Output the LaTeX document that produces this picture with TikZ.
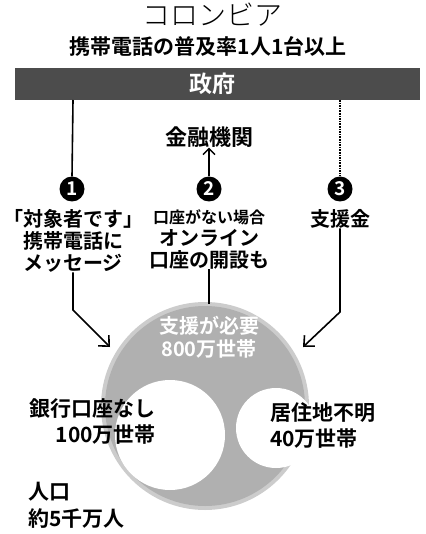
\documentclass[tikz,border=0pt]{standalone}
\usepackage{fontspec}
\newfontfamily\jp{Noto Sans CJK JP}[BoldFont={Noto Sans CJK JP Bold}]
\newfontfamily\jplight{Noto Sans CJK JP Light}
\usetikzlibrary{arrows.meta}
\begin{document}
\begin{tikzpicture}[x=1pt,y=-1pt,
  every node/.style={font=\jp\bfseries, inner sep=0pt, align=center},
  conn/.style={line width=1.6pt, black},
  arr/.style={conn, -{Straight Barb[length=8pt,width=15pt,line width=1.6pt]}},
  numc/.style={circle, fill=black, minimum width=25pt, minimum height=25pt, text=white, font=\jp\bfseries\fontsize{19}{19}\selectfont},
  lbl/.style={font=\jp\bfseries\fontsize{20}{22}\selectfont}
]
\useasboundingbox (0,0) rectangle (425,534);
% title
\node[font=\jplight\fontsize{28}{28}\selectfont] (title) at (212,15) {コロンビア};
\node[font=\jp\bfseries\fontsize{21}{21}\selectfont] (sub) at (208,46) {携帯電話の普及率1人1台以上};
% government bar
\fill[black!70] (15,68) rectangle (420,100);
\node[text=white, font=\jp\bfseries\fontsize{23}{23}\selectfont] (gov) at (212,84) {政府};
\coordinate (g1) at (73,100);
\coordinate (g3) at (340,100);
% bank
\node[font=\jp\bfseries\fontsize{22}{22}\selectfont] (bank) at (209,137) {金融機関};
% circled numbers
\node[numc] (c1) at (72,189) {1};
\node[numc] (c2) at (209,189) {2};
\node[numc] (c3) at (340,189) {3};
\draw[conn] (g1) -- (c1.north);
\draw[conn, densely dotted] (g3) -- (c3.north);
\draw[conn, -{Straight Barb[length=6pt,width=12pt,line width=1.4pt]}, line width=1.4pt] (c2.north) -- (bank.south);
% texts
\node[lbl, anchor=north] (t1) at (73,209) {「対象者です」\\携帯電話に\\メッセージ};
\node[anchor=north, font=\jp\bfseries\fontsize{20}{22}\selectfont] (t2) at (209,209) {{\fontsize{16}{16}\selectfont 口座がない場合}\\オンライン\\口座の開設も};
\node[lbl, anchor=north] (t3) at (340,209) {支援金};
% big circle
\fill[gray!40] (205,406) circle (104);
\fill[gray!62] (205,406) circle (100);
\fill[white] (170,435) circle (55);
\fill[white] (276,428) circle (40);
\node[text=white, font=\jp\bfseries\fontsize{20}{23}\selectfont] (need) at (209,337) {支援が必要\\800万世帯};
\coordinate (top) at (209,304);
\coordinate (a1) at (73,310);
\coordinate (e1) at (110,347);
\coordinate (a3) at (340,312);
\coordinate (e3) at (303,347);
\draw[arr] (t1.south) -- (a1) -- (e1);
\draw[conn] (t2.south) -- (top);
\draw[arr] (t3.south) -- (a3) -- (e3);
% side texts
\node[font=\jp\bfseries\fontsize{21}{26}\selectfont, align=right, anchor=north east] (bank0) at (156,398) {銀行口座なし\\100万世帯};
\node[font=\jp\bfseries\fontsize{21}{26}\selectfont, align=left, anchor=north west] (unk) at (270,402) {居住地不明\\40万世帯};
\node[font=\jp\bfseries\fontsize{21}{27}\selectfont, align=left, anchor=north west] (pop) at (28,482) {人口\\約5千万人};
\end{tikzpicture}
\end{document}
